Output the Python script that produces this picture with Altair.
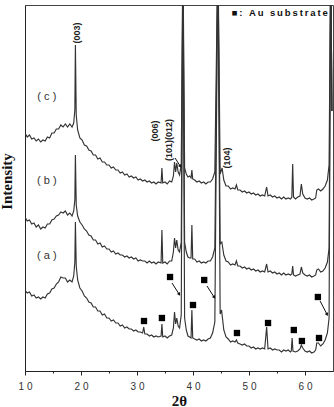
import math
import altair as alt
import pandas as pd

# ---------------- data ----------------
tt_c = [10.0, 10.4, 10.8, 11.2, 11.6, 12.0, 12.4, 12.8, 13.2, 13.6, 14.0, 14.4, 14.8, 15.2, 15.6, 16.0,
        16.4, 16.8, 17.2, 17.6, 18.0, 18.4, 18.7, 18.9, 19.0, 19.15, 19.4, 19.8, 20.2, 20.6, 21.0, 21.4,
        21.8, 22.2, 22.6, 23.0, 23.4, 23.8, 24.2, 24.6, 25.0, 25.4, 25.8, 26.2, 26.6, 27.0, 27.4, 27.8,
        28.2, 28.6, 29.0, 29.4, 29.8, 30.2, 30.6, 31.0, 31.4, 31.8, 32.2, 32.6, 33.0, 33.4, 33.8, 34.3,
        34.45, 34.6, 35.0, 35.4, 35.8, 36.2, 36.5, 36.7, 36.9, 37.1, 37.35, 37.6, 37.9, 38.2, 38.5, 38.8,
        39.1, 39.4, 39.65, 39.8, 39.95, 40.3, 40.7, 41.1, 41.5, 41.9, 42.3, 42.7, 43.1, 43.5, 43.9, 44.45,
        44.85, 45.2, 45.5, 45.9, 46.3, 46.7, 47.1, 47.5, 47.75, 48.0, 48.4, 48.8, 49.2, 49.6, 50.0, 50.4,
        50.8, 51.2, 51.6, 52.0, 52.4, 52.8, 53.15, 53.4, 53.8, 54.2, 54.6, 55.0, 55.4, 55.8, 56.2, 56.6,
        57.0, 57.4, 57.65, 57.8, 57.95, 58.3, 58.7, 59.1, 59.35, 59.6, 60.0, 60.4, 60.8, 61.2, 61.6, 61.9,
        62.1, 62.4, 62.8, 63.2, 63.6, 64.0, 64.3, 64.6, 64.8]
int_c = [238, 234, 236, 232, 233, 230, 232, 229, 231, 230, 234, 233, 238, 238, 242, 242,
         246, 244, 247, 244, 247, 244, 248, 261, 326, 256, 241, 233, 231, 226, 225, 221,
         220, 216, 216, 212, 213, 209, 209, 206, 206, 203, 204, 201, 201, 198, 199, 196,
         197, 194, 195, 193, 194, 191, 192, 190, 191, 189, 190, 188, 189, 187, 189, 188,
         203, 188, 189, 187, 190, 189, 195, 209, 199, 208, 199, 196, 206, 421, 203, 197,
         194, 195, 193, 201, 192, 191, 189, 190, 188, 189, 187, 189, 189, 192, 199, 421,
         197, 203, 191, 185, 185, 182, 183, 182, 186, 181, 181, 179, 180, 178, 179, 177,
         178, 176, 177, 175, 176, 175, 184, 175, 176, 174, 175, 173, 174, 172, 174, 172,
         173, 172, 174, 207, 174, 172, 174, 175, 187, 177, 173, 172, 173, 171, 172, 173,
         181, 182, 180, 182, 185, 191, 206, 421, 260]

tt_b = [10.0, 10.4, 10.8, 11.2, 11.6, 12.0, 12.4, 12.8, 13.2, 13.6, 14.0, 14.4, 14.8, 15.2, 15.6, 16.0,
        16.4, 16.8, 17.2, 17.6, 18.0, 18.4, 18.7, 18.9, 19.0, 19.15, 19.4, 19.8, 20.2, 20.6, 21.0, 21.4,
        21.8, 22.2, 22.6, 23.0, 23.4, 23.8, 24.2, 24.6, 25.0, 25.4, 25.8, 26.2, 26.6, 27.0, 27.4, 27.8,
        28.2, 28.6, 29.0, 29.4, 29.8, 30.2, 30.6, 31.0, 31.4, 31.8, 32.2, 32.6, 33.0, 33.4, 33.8, 34.3,
        34.45, 34.6, 35.0, 35.4, 35.8, 36.2, 36.5, 36.7, 36.9, 37.1, 37.35, 37.6, 37.9, 38.2, 38.5, 38.8,
        39.1, 39.4, 39.65, 39.8, 39.95, 40.3, 40.7, 41.1, 41.5, 41.9, 42.3, 42.7, 43.1, 43.5, 43.9, 44.45,
        44.85, 45.15, 45.5, 45.9, 46.3, 46.7, 47.1, 47.5, 47.75, 48.0, 48.4, 48.8, 49.2, 49.6, 50.0, 50.4,
        50.8, 51.2, 51.6, 52.0, 52.4, 52.8, 53.15, 53.4, 53.8, 54.2, 54.6, 55.0, 55.4, 55.8, 56.2, 56.6,
        57.0, 57.4, 57.65, 57.8, 57.95, 58.3, 58.7, 59.1, 59.35, 59.6, 60.0, 60.4, 60.8, 61.2, 61.6, 61.9,
        62.1, 62.4, 62.8, 63.2, 63.6, 64.0, 64.3, 64.6, 64.8]
int_b = [154, 150, 151, 147, 148, 144, 146, 142, 144, 143, 147, 147, 151, 152, 155, 156,
         159, 158, 160, 156, 158, 155, 160, 171, 216, 166, 155, 149, 146, 142, 140, 136,
         135, 131, 131, 127, 128, 124, 125, 122, 122, 119, 120, 117, 118, 116, 116, 114,
         115, 113, 114, 112, 113, 110, 111, 110, 110, 108, 110, 108, 109, 107, 109, 108,
         141, 108, 109, 107, 110, 110, 119, 133, 123, 131, 121, 119, 129, 421, 129, 119,
         114, 113, 113, 146, 112, 112, 109, 110, 108, 109, 108, 110, 110, 114, 123, 421,
         127, 129, 116, 110, 109, 106, 107, 106, 110, 105, 105, 103, 104, 102, 103, 101,
         102, 100, 101, 99, 100, 99, 107, 99, 100, 98, 99, 97, 98, 96, 98, 96,
         97, 96, 97, 105, 96, 95, 96, 97, 104, 98, 96, 95, 96, 94, 95, 96,
         101, 102, 99, 100, 103, 109, 123, 421, 260]

tt_a = [10.0, 10.4, 10.8, 11.2, 11.6, 12.0, 12.4, 12.8, 13.2, 13.6, 14.0, 14.4, 14.8, 15.2, 15.6, 16.0,
        16.4, 16.8, 17.2, 17.6, 18.0, 18.4, 18.7, 18.9, 19.0, 19.15, 19.4, 19.8, 20.2, 20.6, 21.0, 21.4,
        21.8, 22.2, 22.6, 23.0, 23.4, 23.8, 24.2, 24.6, 25.0, 25.4, 25.8, 26.2, 26.6, 27.0, 27.4, 27.8,
        28.2, 28.6, 29.0, 29.4, 29.8, 30.2, 30.6, 31.0, 31.2, 31.4, 31.8, 32.2, 32.6, 33.0, 33.4, 33.8,
        34.3, 34.45, 34.6, 35.0, 35.4, 35.8, 36.2, 36.5, 36.7, 36.9, 37.1, 37.35, 37.6, 37.9, 38.2, 38.5,
        38.8, 39.1, 39.4, 39.65, 39.8, 39.95, 40.3, 40.7, 41.1, 41.5, 41.9, 42.3, 42.7, 43.1, 43.5, 43.9,
        44.45, 44.85, 45.1, 45.5, 45.9, 46.3, 46.7, 47.1, 47.5, 47.75, 48.0, 48.4, 48.8, 49.2, 49.6, 50.0,
        50.4, 50.8, 51.2, 51.6, 52.0, 52.4, 52.8, 53.15, 53.4, 53.8, 54.2, 54.6, 55.0, 55.4, 55.8, 56.2,
        56.6, 57.0, 57.4, 57.55, 57.7, 57.85, 58.3, 58.7, 59.1, 59.35, 59.6, 60.0, 60.4, 60.8, 61.2, 61.6,
        61.9, 62.1, 62.4, 62.8, 63.2, 63.6, 64.0, 64.3, 64.6, 64.8]
int_a = [81, 78, 79, 75, 76, 73, 74, 72, 74, 73, 77, 78, 82, 83, 87, 89,
         94, 93, 93, 89, 91, 89, 95, 109, 149, 105, 91, 83, 80, 75, 73, 69,
         68, 64, 64, 60, 60, 56, 57, 53, 53, 50, 51, 48, 48, 45, 46, 43,
         44, 42, 42, 40, 41, 39, 39, 38, 44, 37, 37, 35, 36, 34, 35, 34,
         35, 47, 34, 35, 33, 35, 36, 43, 59, 47, 53, 45, 43, 56, 421, 53,
         41, 35, 34, 33, 61, 33, 32, 31, 32, 30, 31, 30, 32, 33, 38, 49,
         421, 57, 61, 41, 34, 32, 29, 30, 29, 31, 28, 27, 26, 27, 25, 25,
         23, 24, 22, 23, 22, 23, 22, 44, 22, 23, 21, 22, 21, 21, 19, 21,
         20, 21, 19, 20, 33, 20, 19, 20, 22, 26, 23, 20, 19, 20, 18, 19,
         21, 28, 28, 25, 27, 31, 38, 53, 421, 260]

# Au substrate markers
marker_tt = [35.9, 42.0, 40.0, 31.25, 34.45, 47.85, 53.4, 58.0, 59.45, 62.5, 62.3]
marker_int = [94, 91, 66, 50, 53, 38, 48, 41, 30, 33, 74]

# arrows (start -> end)
arrow_tt0 = [36.25, 42.5, 62.7, 36.8]
arrow_int0 = [88, 85, 70, 213]
arrow_tt1 = [37.5, 43.75, 63.9, 37.7]
arrow_int1 = [77, 74, 57, 205]

# labels
curve_labels = ["( c )", "( b )", "( a )"]
curve_label_tt = [13.9, 13.9, 13.9]
curve_label_int = [274, 190, 115]

peak_labels = ["(003)", "(006)", "(101)(012)", "(104)"]
peak_label_tt = [19.3, 33.2, 35.7, 46.1]
peak_label_int = [338, 240, 231, 213]

legend_text = "\u2009".join("■: Au substrate")
legend_tt = [46.9]
legend_int = [358]

tick_values = [10, 20, 30, 40, 50, 60]
tick_labels = ["1 0", "2 0", "3 0", "4 0", "5 0", "6 0"]
minor_ticks = [15, 25, 35, 45, 55]

# ---------------- frames ----------------
curves = pd.concat([
    pd.DataFrame({"two_theta": tt_a, "intensity": int_a, "curve": "a"}),
    pd.DataFrame({"two_theta": tt_b, "intensity": int_b, "curve": "b"}),
    pd.DataFrame({"two_theta": tt_c, "intensity": int_c, "curve": "c"}),
])
markers = pd.DataFrame({"two_theta": marker_tt, "intensity": marker_int})

W, H = 308, 366
X_DOM = [10, 65]
Y_DOM = [0, 366]
sx = W / (X_DOM[1] - X_DOM[0])
sy = H / (Y_DOM[1] - Y_DOM[0])
angles = [math.degrees(math.atan2((x1 - x0) * sx, (y1 - y0) * sy)) % 360
          for x0, y0, x1, y1 in zip(arrow_tt0, arrow_int0, arrow_tt1, arrow_int1)]
arrows = pd.DataFrame({"two_theta": arrow_tt0, "intensity": arrow_int0,
                       "two_theta_end": arrow_tt1, "intensity_end": arrow_int1,
                       "angle": angles})
arrow_heads = pd.DataFrame({"two_theta": arrow_tt1, "intensity": arrow_int1, "angle": angles})
clabels = pd.DataFrame({"two_theta": curve_label_tt, "intensity": curve_label_int, "text": curve_labels})
plabels = pd.DataFrame({"two_theta": peak_label_tt, "intensity": peak_label_int, "text": peak_labels})
legend = pd.DataFrame({"two_theta": legend_tt, "intensity": legend_int, "text": [legend_text]})

all_ticks = sorted(tick_values + minor_ticks)
label_expr = ""
for v, l in zip(tick_values, tick_labels):
    label_expr += f"datum.value == {v} ? '{l}' : "
label_expr += "''"
major_test = " || ".join(f"datum.value == {v}" for v in tick_values)

x_enc = alt.X("two_theta:Q",
              scale=alt.Scale(domain=X_DOM, nice=False, zero=False),
              axis=alt.Axis(values=all_ticks, labelExpr=label_expr,
                            tickSize={"condition": {"test": major_test, "value": 4}, "value": 2},
                            tickColor="#222", domainColor="#222", grid=False,
                            labelFont="Liberation Sans", labelFontSize=10, labelColor="#333",
                            labelPadding=6, labelFlush=False, labelOverlap=False,
                            title="2θ", titleFont="Liberation Serif", titleFontSize=15,
                            titleFontWeight="bold", titleColor="#111",
                            titleBaseline="alphabetic", titleY=34))
y_enc = alt.Y("intensity:Q",
              scale=alt.Scale(domain=Y_DOM, nice=False, zero=False),
              axis=alt.Axis(ticks=False, labels=False, grid=False, domainColor="#222",
                            title="Intensity", titleFont="Liberation Serif", titleFontSize=15,
                            titleFontWeight="bold", titleColor="#111", titleAngle=270,
                            titleAlign="center", titleBaseline="alphabetic",
                            titleX=-14, titleY=176))

lines = alt.Chart(curves).mark_line(clip=True, strokeWidth=1.15, color="#333333").encode(
    x=x_enc, y=y_enc, detail="curve:N", order="two_theta:Q")

squares = alt.Chart(markers).mark_square(size=40, filled=True, color="black", opacity=1).encode(
    x=x_enc, y=y_enc)

arrow_lines = alt.Chart(arrows).mark_rule(color="#111", strokeWidth=1).encode(
    x=x_enc, y=y_enc, x2="two_theta_end:Q", y2="intensity_end:Q")

heads = alt.Chart(arrow_heads).mark_point(shape="triangle", filled=True, size=14,
                                          color="#111", opacity=1).encode(
    x=x_enc, y=y_enc, angle=alt.Angle("angle:Q", scale=None))

clab = alt.Chart(clabels).mark_text(font="Liberation Sans", fontSize=11, color="#333",
                                    align="center", baseline="middle").encode(
    x=x_enc, y=y_enc, text="text:N")

plab = alt.Chart(plabels).mark_text(font="Liberation Sans", fontSize=9, fontWeight="bold",
                                    color="#222", angle=270, align="center",
                                    baseline="middle").encode(
    x=x_enc, y=y_enc, text="text:N")

leg = alt.Chart(legend).mark_text(font="Liberation Sans", fontSize=9.5, fontWeight="bold",
                                  color="#111", align="left", baseline="middle").encode(
    x=x_enc, y=y_enc, text="text:N")

chart = alt.layer(lines, squares, arrow_lines, heads, clab, plab, leg).properties(
    width=W, height=H,
    autosize=alt.AutoSizeParams(type="none"),
    padding={"left": 25, "top": 5, "right": 1, "bottom": 36},
    background="white",
).configure_view(stroke="#444", strokeWidth=1)

chart.save("out.html", embed_options={"renderer": "svg", "actions": False})
